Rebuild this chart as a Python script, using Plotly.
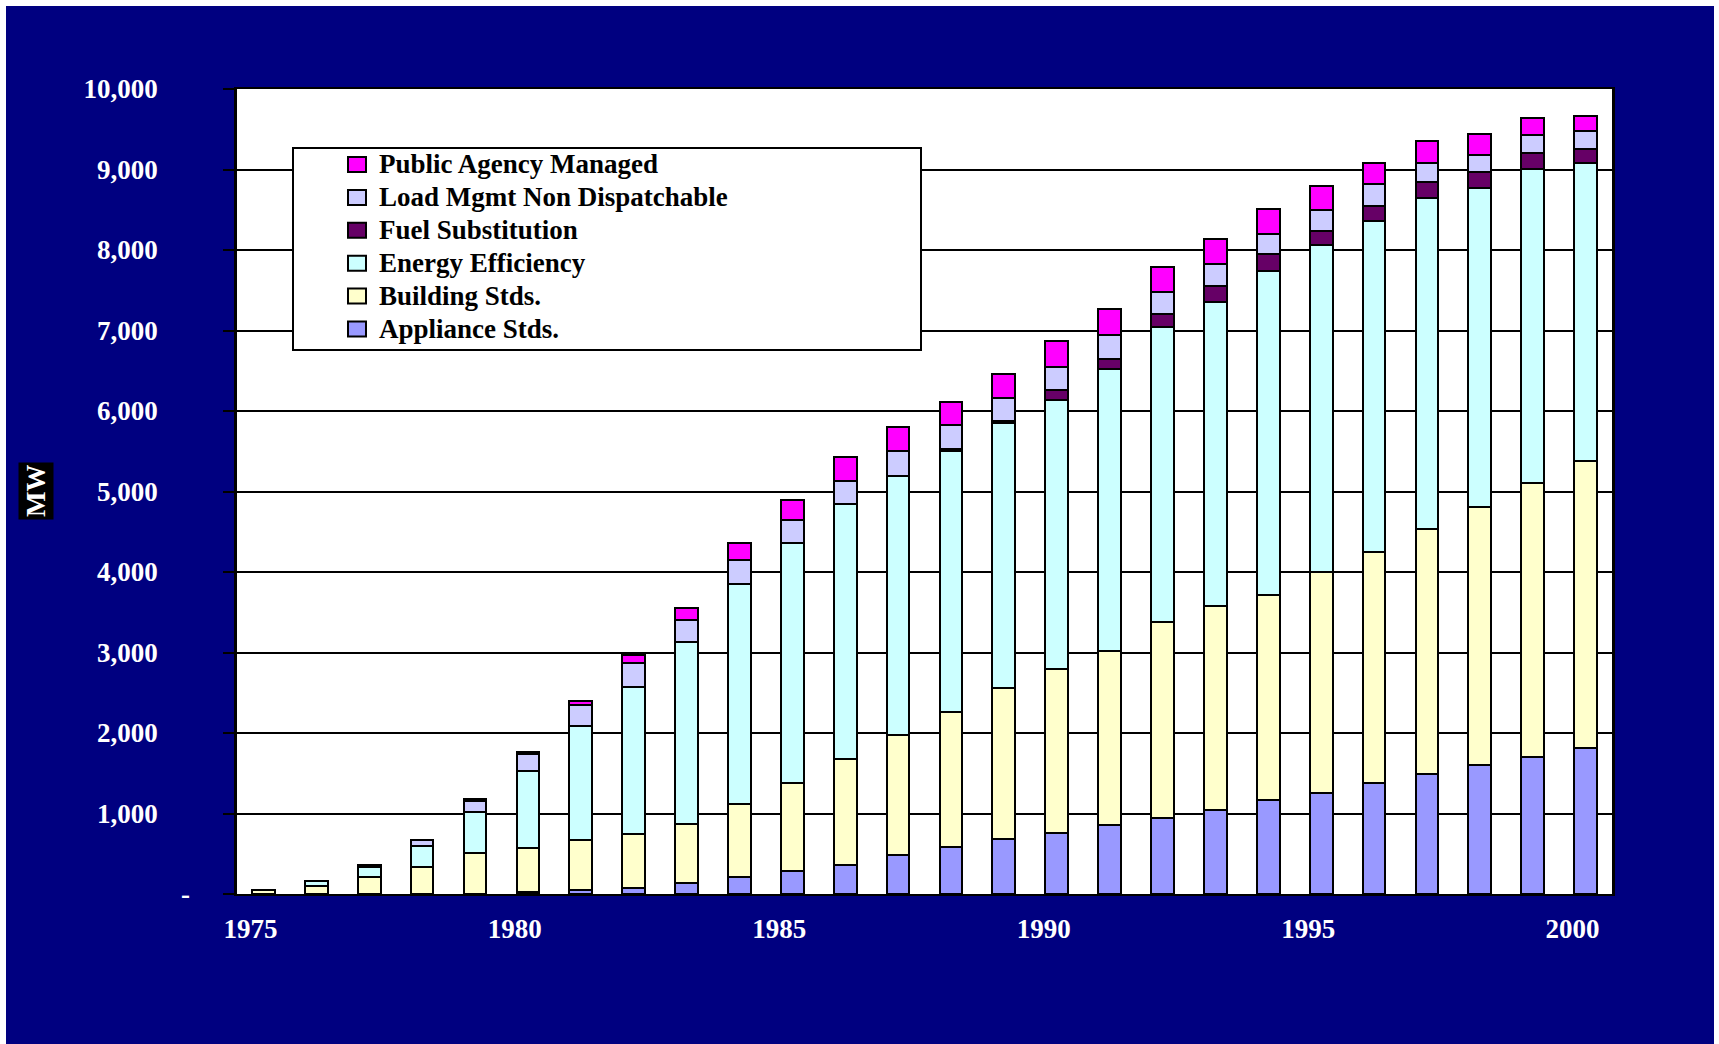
import plotly.graph_objects as go

# ---------------- data ----------------
years = list(range(1975, 2001))

appliance_stds = [0, 0, 0, 0, 0, 25, 45, 75, 140, 210, 285, 360, 480, 580, 680,
                  755, 855, 945, 1040, 1165, 1260, 1385, 1485, 1605, 1700, 1815]
building_stds = [50, 105, 210, 335, 510, 550, 630, 675, 735, 905, 1095, 1315, 1490, 1680, 1875,
                 2045, 2165, 2440, 2540, 2555, 2745, 2865, 3055, 3205, 3400, 3570]
energy_efficiency = [0, 55, 125, 260, 510, 950, 1410, 1825, 2260, 2735, 2980, 3170, 3220, 3240, 3300,
                     3335, 3505, 3655, 3780, 4025, 4060, 4110, 4100, 3960, 3910, 3690]
fuel_substitution = [0, 0, 0, 0, 0, 0, 0, 0, 0, 0, 0, 0, 0, 30, 20,
                     120, 115, 165, 195, 200, 170, 190, 200, 205, 195, 180]
load_mgmt = [0, 0, 20, 80, 135, 220, 265, 295, 270, 300, 290, 290, 310, 300, 285,
             295, 300, 270, 265, 250, 260, 275, 235, 205, 220, 220]
public_agency = [0, 0, 0, 0, 20, 25, 50, 95, 145, 210, 240, 295, 300, 285, 295,
                 320, 325, 320, 315, 310, 305, 260, 275, 260, 220, 190]

series_names = ["Appliance Stds.", "Building Stds.", "Energy Efficiency",
                "Fuel Substitution", "Load Mgmt Non Dispatchable", "Public Agency Managed"]
series_values = [appliance_stds, building_stds, energy_efficiency,
                 fuel_substitution, load_mgmt, public_agency]
series_colors = ["#9999FF", "#FFFFCC", "#CCFFFF", "#660066", "#CCCCFF", "#FF00FF"]

y_tick_values = list(range(0, 10001, 1000))
y_tick_labels = [""] + [f"{v:,}" for v in y_tick_values[1:]]
x_tick_values = years[::5]
x_tick_labels = [str(v) for v in x_tick_values]

# ---------------- figure ----------------
FONT = "Liberation Serif, Times New Roman, serif"
FS = 27
W, H = 1719, 1044
L, R, T, B = 237, 107, 89, 150
PW, PH = W - L - R, H - T - B


def px_x(px):
    return (px - L) / PW


def px_y(py):
    return (H - B - py) / PH


fig = go.Figure()
for name, vals, col in zip(series_names, series_values, series_colors):
    fig.add_trace(go.Bar(
        x=years, y=vals, name=name, showlegend=False,
        marker=dict(color=col, line=dict(color="black", width=2)),
    ))

shapes = [
    # legend box
    dict(type="rect", xref="paper", yref="paper",
         x0=px_x(293), x1=px_x(921), y0=px_y(350), y1=px_y(148),
         fillcolor="white", line=dict(color="black", width=2), layer="above"),
    # thin white page border (left, top, right)
    dict(type="line", xref="paper", yref="paper",
         x0=px_x(3), x1=px_x(3), y0=px_y(-10), y1=px_y(H + 10),
         line=dict(color="white", width=6)),
    dict(type="line", xref="paper", yref="paper",
         x0=px_x(-10), x1=px_x(W + 10), y0=px_y(3), y1=px_y(3),
         line=dict(color="white", width=6)),
    dict(type="line", xref="paper", yref="paper",
         x0=px_x(1716.5), x1=px_x(1716.5), y0=px_y(-10), y1=px_y(H + 10),
         line=dict(color="white", width=5)),
]

annotations = [
    dict(text="MW", x=px_x(35.5), y=px_y(491.5), xref="paper", yref="paper",
         xanchor="center", yanchor="middle",
         showarrow=False, textangle=-90, bgcolor="black", borderpad=2,
         font=dict(family=FONT, size=FS, color="white", weight="bold")),
    dict(text="-", x=px_x(185), y=0, xref="paper", yref="paper",
         showarrow=False, xanchor="center", yanchor="middle",
         font=dict(family=FONT, size=FS, color="white", weight="bold")),
]

# hand-built legend (top entry = top of stack)
row0, row_step = 164.5, 32.9
for i, (name, col) in enumerate(zip(series_names[::-1], series_colors[::-1])):
    cy = row0 + i * row_step
    shapes.append(dict(type="rect", xref="paper", yref="paper",
                       x0=px_x(348), x1=px_x(366), y0=px_y(cy + 7.5), y1=px_y(cy - 7.5),
                       fillcolor=col, line=dict(color="black", width=2), layer="above"))
    annotations.append(dict(text=name, x=px_x(377), y=px_y(cy), xref="paper", yref="paper",
                            xanchor="left", yanchor="middle", showarrow=False,
                            font=dict(family=FONT, size=FS, color="black", weight="bold")))

fig.update_layout(
    width=W, height=H,
    margin=dict(l=L, r=R, t=T, b=B, pad=0),
    paper_bgcolor="#000080",
    plot_bgcolor="white",
    barmode="stack",
    bargap=0.57,
    showlegend=False,
    xaxis=dict(
        range=[1974.5, 2000.5],
        tickvals=x_tick_values, ticktext=x_tick_labels,
        showgrid=False, zeroline=False,
        showline=True, linecolor="black", linewidth=2, mirror=True,
        ticks="", ticklabelshift=-13, ticklabelstandoff=10,
        tickfont=dict(family=FONT, size=FS, color="white", weight="bold"),
    ),
    yaxis=dict(
        range=[0, 10000],
        tickvals=y_tick_values, ticktext=y_tick_labels,
        showgrid=True, gridcolor="black", gridwidth=1.5, zeroline=False,
        showline=True, linecolor="black", linewidth=2.5, mirror=True,
        ticks="outside", ticklen=11, tickwidth=2, tickcolor="black",
        ticklabelstandoff=60,
        tickfont=dict(family=FONT, size=FS, color="white", weight="bold"),
    ),
    shapes=shapes,
    annotations=annotations,
)

fig.write_html("out.html")
